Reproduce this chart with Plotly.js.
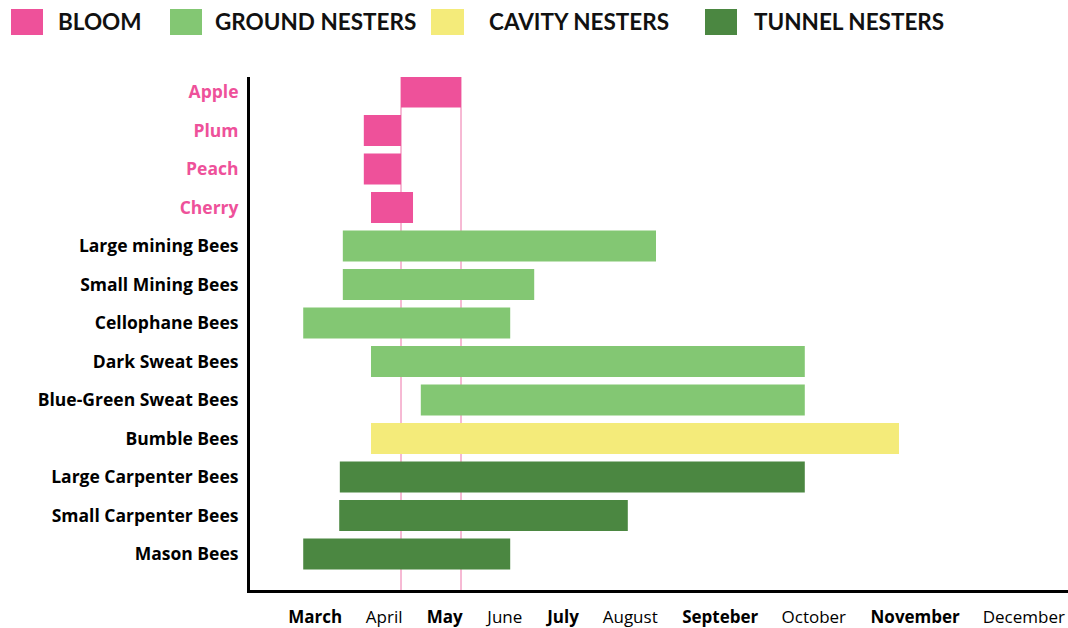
<!DOCTYPE html>
<html>
<head>
<meta charset="utf-8">
<script src="https://cdn.plot.ly/plotly-3.0.1.min.js"></script>
<style>html,body{margin:0;padding:0;background:#fff;}#chart{width:1068px;height:628px;}</style>
</head>
<body>
<div id="chart"></div>
<script>
// ---- Data (months as decimal numbers: 4 = start of April line, 5 = May line) ----
const categories = ["Apple","Plum","Peach","Cherry","Large mining Bees","Small Mining Bees",
  "Cellophane Bees","Dark Sweat Bees","Blue-Green Sweat Bees","Bumble Bees",
  "Large Carpenter Bees","Small Carpenter Bees","Mason Bees"];

const bloomNames  = ["Apple","Plum","Peach","Cherry"];
const bloomStart  = [4.0, 3.38, 3.38, 3.5];
const bloomEnd    = [5.0, 4.0, 4.0, 4.2];

const groundNames = ["Large mining Bees","Small Mining Bees","Cellophane Bees","Dark Sweat Bees","Blue-Green Sweat Bees"];
const groundStart = [3.03, 3.03, 2.37, 3.5, 4.33];
const groundEnd   = [8.25, 6.22, 5.82, 10.73, 10.73];

const cavityNames = ["Bumble Bees"];
const cavityStart = [3.5];
const cavityEnd   = [12.3];

const tunnelNames = ["Large Carpenter Bees","Small Carpenter Bees","Mason Bees"];
const tunnelStart = [2.98, 2.97, 2.37];
const tunnelEnd   = [10.73, 7.78, 5.82];

const monthLabels = ["March","April","May","June","July","August","Septeber","October","November","December"];
const monthBold   = [true,false,true,false,true,false,true,false,true,false];
const monthTickPos = [2.57, 3.72, 4.73, 5.73, 6.70, 7.82, 9.32, 10.88, 12.57, 14.38];

const legendNames = ["BLOOM","GROUND NESTERS","CAVITY NESTERS","TUNNEL NESTERS"];
const colors = {bloom:"#ee519a", ground:"#83c773", cavity:"#f4eb7a", tunnel:"#4b8741"};
const legendColors = [colors.bloom, colors.ground, colors.cavity, colors.tunnel];

// ---- Layout geometry ----
const W = 1068, H = 628;
const M = {l:250, r:0, t:77, b:38};
const plotW = W - M.l - M.r, plotH = H - M.t - M.b;
const pxX = px => (px - M.l) / plotW;
const pxY = py => (H - M.b - py) / plotH;

function barTrace(names, s, e, color){
  return {type:"bar", orientation:"h", y:names, base:s, x:s.map((v,i)=>e[i]-v),
    width:0.8, marker:{color:color, line:{width:0}}, showlegend:false, hoverinfo:"y+x"};
}

const traces = [
  barTrace(bloomNames, bloomStart, bloomEnd, colors.bloom),
  barTrace(groundNames, groundStart, groundEnd, colors.ground),
  barTrace(cavityNames, cavityStart, cavityEnd, colors.cavity),
  barTrace(tunnelNames, tunnelStart, tunnelEnd, colors.tunnel)
];

// Y tick labels: bloom in pink
const yTickText = categories.map(c => bloomNames.includes(c)
  ? '<span style="color:'+colors.bloom+'">'+c+'</span>' : c);

const xTickText = monthLabels.map((m,i)=> monthBold[i] ? "<b>"+m+"</b>" : m);

// Apple bloom window lines
const shapes = [bloomStart[0], bloomEnd[0]].map(v => ({
  type:"line", xref:"x", yref:"paper", x0:v, x1:v, y0:0, y1:1,
  line:{color:"#f4a3c6", width:1.5}, layer:"below"
}));

// Custom legend
const legSquares = [[11,43],[170,202],[431,464],[705,737]];
const legTextX = [59,216,490,755];
const annotations = [];
legendNames.forEach((n,i)=>{
  shapes.push({type:"rect", xref:"paper", yref:"paper",
    x0:pxX(legSquares[i][0]), x1:pxX(legSquares[i][1]), y0:pxY(35), y1:pxY(9),
    fillcolor:legendColors[i], line:{width:0}});
  annotations.push({xref:"paper", yref:"paper", x:pxX(legTextX[i]-3), y:pxY(21),
    xanchor:"left", yanchor:"middle", showarrow:false, text:n,
    font:{family:"Lato, sans-serif", size:22.5, color:"#111", weight:700}});
});

const layout = {
  width:W, height:H, margin:M, paper_bgcolor:"#fff", plot_bgcolor:"#fff",
  barmode:"overlay", showlegend:false,
  font:{family:"'Open Sans', Lato, sans-serif", color:"#000"},
  xaxis:{range:[1.483,15.117], showgrid:false, zeroline:false, showline:true,
    linecolor:"#000", linewidth:3, ticks:"", tickvals:monthTickPos, ticktext:xTickText,
    tickfont:{size:17, color:"#000"}, ticklabelstandoff:10, fixedrange:true},
  yaxis:{type:"category", categoryorder:"array", categoryarray:categories,
    range:[12.935,-0.39], showgrid:false, zeroline:false, showline:true,
    linecolor:"#000", linewidth:3, ticks:"", tickvals:categories, ticktext:yTickText,
    tickfont:{size:17.5, color:"#000", weight:700}, ticklabelstandoff:5, fixedrange:true},
  shapes:shapes, annotations:annotations
};

Plotly.newPlot("chart", traces, layout, {displayModeBar:false, staticPlot:true});
</script>
</body>
</html>
